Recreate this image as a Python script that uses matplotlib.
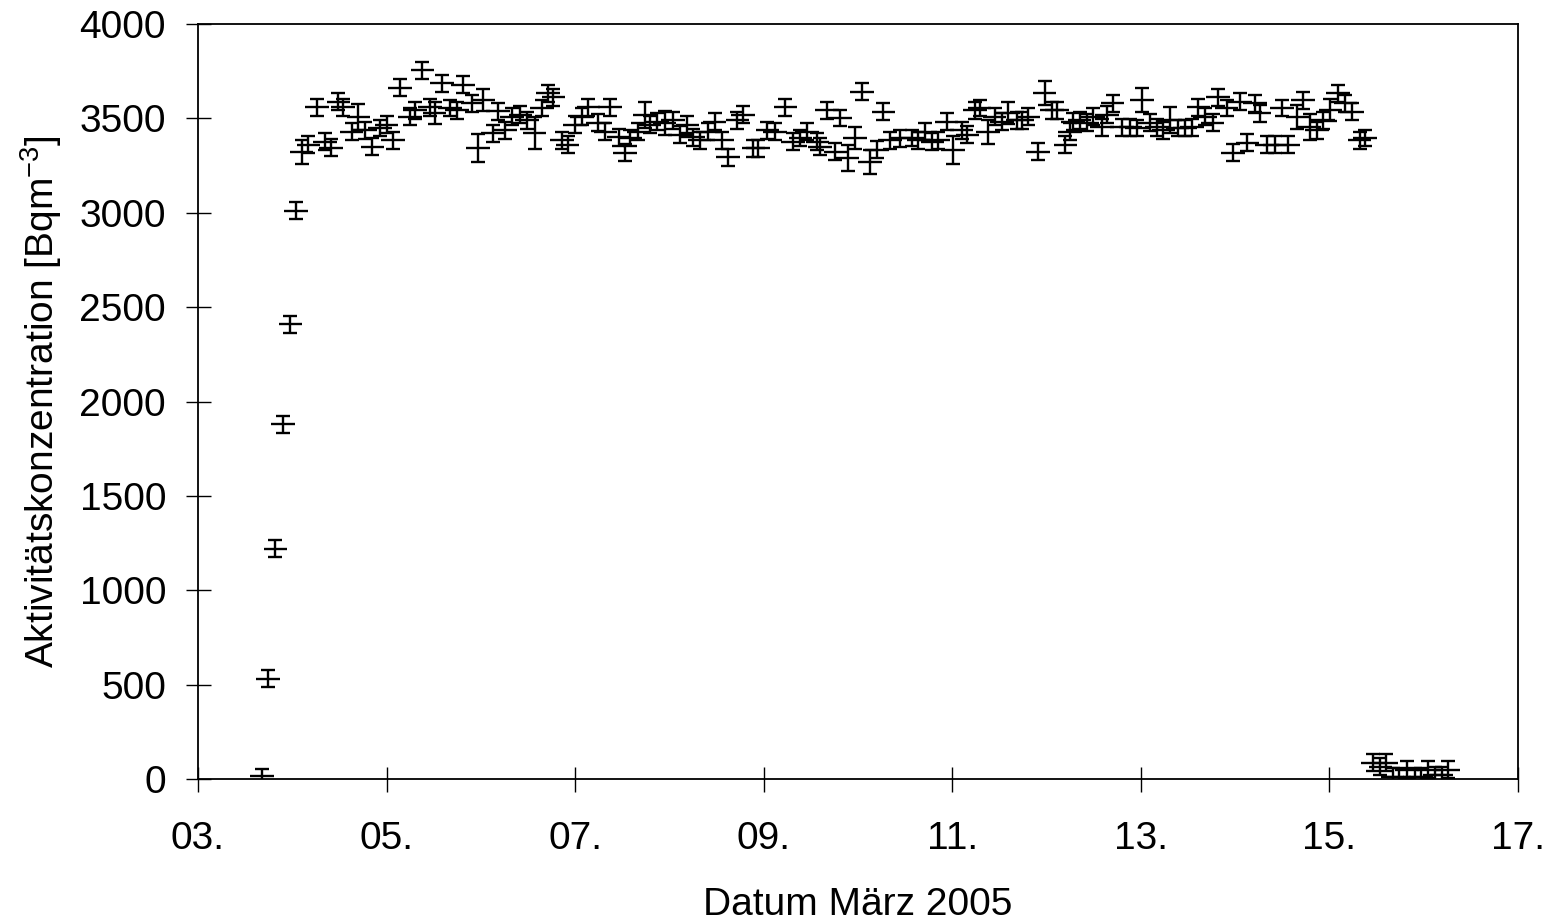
import matplotlib
matplotlib.use("Agg")
import matplotlib.pyplot as plt

plt.rcParams['font.family'] = ['Liberation Sans', 'DejaVu Sans']
plt.rcParams['mathtext.default'] = 'regular'

# Time (day of March 2005)
days = [3.68, 3.74, 3.82, 3.90, 3.98, 4.04, 4.10, 4.17, 4.26, 4.35,
        4.41, 4.49, 4.54, 4.63, 4.70, 4.77, 4.85, 4.93, 5.00, 5.07,
        5.14, 5.25, 5.30, 5.38, 5.46, 5.51, 5.59, 5.67, 5.75, 5.81,
        5.91, 5.97, 6.02, 6.13, 6.18, 6.26, 6.33, 6.42, 6.49, 6.57,
        6.65, 6.71, 6.77, 6.86, 6.92, 7.00, 7.07, 7.14, 7.24, 7.32,
        7.37, 7.46, 7.53, 7.58, 7.67, 7.74, 7.79, 7.87, 7.95, 8.04,
        8.11, 8.19, 8.25, 8.32, 8.41, 8.48, 8.56, 8.62, 8.72, 8.78,
        8.89, 8.94, 9.04, 9.12, 9.23, 9.31, 9.39, 9.46, 9.57, 9.60,
        9.67, 9.76, 9.81, 9.89, 9.97, 10.04, 10.13, 10.20, 10.27, 10.34,
        10.45, 10.57, 10.64, 10.71, 10.79, 10.85, 10.94, 11.01, 11.10, 11.16,
        11.24, 11.29, 11.38, 11.45, 11.53, 11.59, 11.69, 11.74, 11.80, 11.91,
        11.98, 12.06, 12.11, 12.20, 12.25, 12.28, 12.35, 12.43, 12.49, 12.59,
        12.64, 12.70, 12.80, 12.89, 12.96, 13.01, 13.10, 13.17, 13.24, 13.31,
        13.39, 13.47, 13.54, 13.61, 13.68, 13.76, 13.82, 13.91, 13.98, 14.05,
        14.13, 14.21, 14.26, 14.34, 14.42, 14.50, 14.56, 14.66, 14.72, 14.79,
        14.87, 14.93, 15.01, 15.09, 15.17, 15.24, 15.32, 15.38, 15.46, 15.54,
        15.60, 15.67, 15.74, 15.82, 15.91, 15.97, 16.05, 16.12, 16.19, 16.26]

# Activity concentration [Bq/m3]
conc = [15, 530, 1220, 1880, 2410, 3010, 3322, 3359, 3560, 3375,
        3345, 3587, 3560, 3428, 3508, 3438, 3349, 3449, 3465, 3385,
        3661, 3508, 3544, 3756, 3560, 3528, 3687, 3555, 3544, 3677,
        3581, 3343, 3597, 3422, 3539, 3438, 3508, 3518, 3491, 3422,
        3555, 3634, 3613, 3385, 3359, 3465, 3508, 3560, 3476, 3428,
        3560, 3401, 3317, 3396, 3428, 3518, 3465, 3481, 3476, 3491,
        3412, 3465, 3401, 3385, 3428, 3481, 3385, 3295, 3491, 3518,
        3343, 3343, 3438, 3428, 3560, 3375, 3396, 3428, 3375, 3349,
        3544, 3322, 3502, 3290, 3396, 3640, 3269, 3333, 3534, 3385,
        3395, 3396, 3385, 3428, 3375, 3385, 3481, 3333, 3438, 3412,
        3544, 3555, 3428, 3508, 3481, 3528, 3491, 3491, 3508, 3322,
        3634, 3544, 3544, 3359, 3428, 3481, 3491, 3476, 3508, 3454,
        3518, 3581, 3454, 3454, 3449, 3597, 3476, 3454, 3438, 3491,
        3449, 3449, 3454, 3560, 3508, 3476, 3613, 3555, 3317, 3587,
        3370, 3581, 3528, 3359, 3359, 3555, 3359, 3508, 3597, 3454,
        3438, 3491, 3544, 3634, 3581, 3534, 3385, 3396, 85, 64,
        85, 11, 11, 48, 11, 11, 48, 21, 21, 48]

# Uncertainty of concentration
conc_err = [40, 45, 45, 45, 45, 45, 66, 45, 45, 45,
            45, 45, 45, 45, 70, 45, 45, 45, 45, 45,
            45, 45, 45, 45, 45, 60, 45, 45, 45, 45,
            45, 75, 60, 45, 45, 45, 45, 45, 45, 84,
            45, 45, 45, 45, 45, 45, 45, 45, 45, 45,
            45, 45, 45, 45, 45, 70, 45, 45, 65, 45,
            45, 45, 45, 45, 45, 45, 45, 45, 45, 45,
            45, 45, 45, 45, 45, 45, 45, 45, 45, 45,
            45, 45, 45, 70, 60, 45, 66, 45, 45, 45,
            45, 45, 45, 45, 45, 45, 45, 75, 45, 45,
            45, 45, 65, 45, 45, 60, 45, 45, 45, 45,
            65, 45, 45, 45, 45, 45, 45, 45, 45, 45,
            45, 45, 45, 45, 45, 65, 45, 45, 45, 70,
            45, 45, 45, 45, 45, 45, 45, 45, 45, 45,
            45, 45, 45, 45, 45, 45, 45, 65, 45, 70,
            45, 45, 60, 45, 45, 45, 45, 45, 45, 45,
            45, 45, 45, 45, 45, 45, 45, 45, 45, 45]

# Half sampling interval [days]
time_halfwidth = 0.125

x_ticks = [3, 5, 7, 9, 11, 13, 15, 17]
x_ticklabels = ['03.', '05.', '07.', '09.', '11.', '13.', '15.', '17.']
y_ticks = [0, 500, 1000, 1500, 2000, 2500, 3000, 3500, 4000]

fig = plt.figure(figsize=(15.51, 9.24), dpi=100)
ax = fig.add_axes([198/1551, 1 - 779/924, (1518 - 198)/1551, (779 - 24)/924])

ax.errorbar(days, conc, xerr=time_halfwidth, fmt='none', ecolor='black',
            elinewidth=1.7, capsize=0)
ax.errorbar(days, conc, yerr=conc_err, fmt='none', ecolor='black',
            elinewidth=1.7, capsize=5, capthick=1.7)

ax.set_xlim(3, 17)
ax.set_ylim(0, 4000)
ax.set_xticks(x_ticks)
ax.set_xticklabels(x_ticklabels)
ax.set_yticks(y_ticks)

for s in ax.spines.values():
    s.set_linewidth(1.3)
    s.set_color('black')

ax.tick_params(axis='both', direction='inout', length=18, width=1.0,
               colors='black', labelsize=28)
ax.tick_params(axis='x', pad=21)
ax.tick_params(axis='y', pad=14)

ax.set_xlabel('Datum März 2005', fontsize=28, labelpad=22)
ax.set_ylabel('Aktivitätskonzentration [Bqm$^{-3}$]', fontsize=28, labelpad=11)

fig.savefig('out.png', dpi=100)
